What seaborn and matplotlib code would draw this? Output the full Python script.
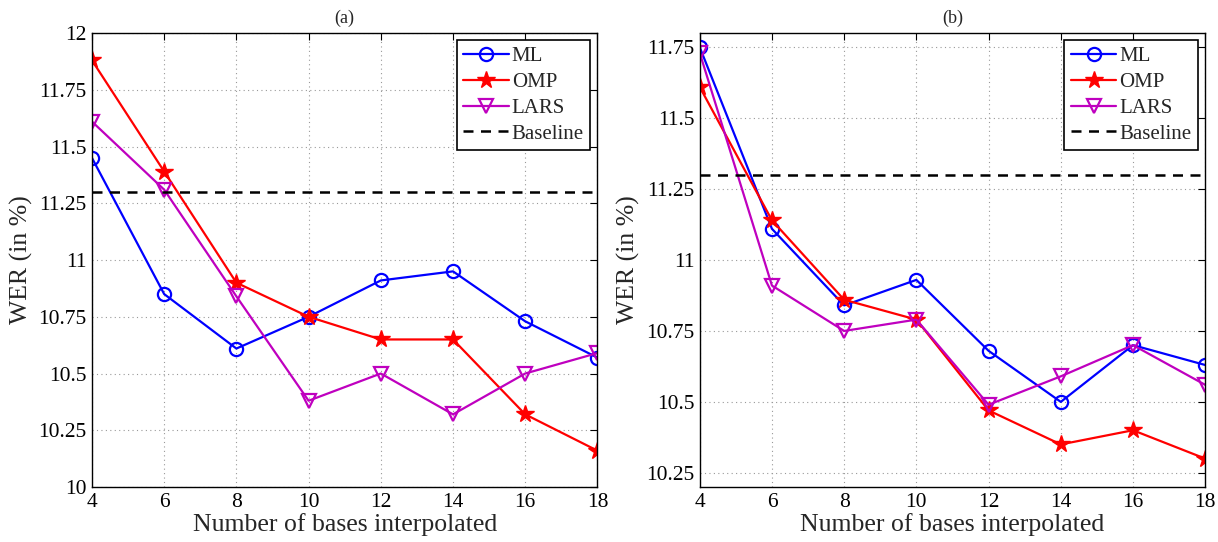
import matplotlib
matplotlib.use("Agg")
import matplotlib.pyplot as plt
import seaborn as sns
import pandas as pd

n_bases = [4, 6, 8, 10, 12, 14, 16, 18]

ml_a = [11.45, 10.85, 10.61, 10.75, 10.91, 10.95, 10.73, 10.57]
omp_a = [11.88, 11.39, 10.90, 10.75, 10.65, 10.65, 10.32, 10.16]
lars_a = [11.61, 11.31, 10.84, 10.38, 10.50, 10.32, 10.50, 10.59]

ml_b = [11.75, 11.11, 10.84, 10.93, 10.68, 10.50, 10.70, 10.63]
omp_b = [11.61, 11.14, 10.86, 10.79, 10.47, 10.35, 10.40, 10.30]
lars_b = [11.73, 10.91, 10.75, 10.79, 10.49, 10.59, 10.70, 10.56]

baseline = 11.3

yticks_a = [10, 10.25, 10.5, 10.75, 11, 11.25, 11.5, 11.75, 12]
yticks_b = [10.25, 10.5, 10.75, 11, 11.25, 11.5, 11.75]
ytick_labels_a = ["10", "10.25", "10.5", "10.75", "11", "11.25", "11.5", "11.75", "12"]
ytick_labels_b = ["10.25", "10.5", "10.75", "11", "11.25", "11.5", "11.75"]

sns.set_theme(style="white")
plt.rcParams["font.family"] = ["Liberation Serif", "DejaVu Serif"]
plt.rcParams["mathtext.fontset"] = "stix"

fig = plt.figure(figsize=(12.18, 5.42), dpi=100)
ax_a = fig.add_axes([0.0755, 0.1015, 0.415, 0.8375])
ax_b = fig.add_axes([0.5745, 0.1015, 0.415, 0.8375])

styles = [
    ("ML", "#0000ff", "o", dict(markerfacecolor="none", markersize=9.5, markeredgewidth=1.6)),
    ("OMP", "#ff0000", "*", dict(markersize=13, markeredgewidth=1.0)),
    ("LARS", "#bf00bf", "v", dict(markerfacecolor="none", markersize=10, markeredgewidth=1.6)),
]


def draw(ax, series, ylim, yticks, ylabels, title):
    for (name, color, marker, kw), vals in zip(styles, series):
        df = pd.DataFrame({"x": n_bases, "y": vals})
        sns.lineplot(data=df, x="x", y="y", ax=ax, color=color, marker=marker,
                     markeredgecolor=color, linewidth=1.6, label=name, **kw)
    ax.axhline(baseline, color="black", linestyle=(0, (4, 3)), linewidth=1.8,
               label="Baseline")
    ax.set_xlim(4, 18)
    ax.set_ylim(*ylim)
    ax.set_xticks(n_bases)
    ax.set_xticklabels([str(v) for v in n_bases])
    ax.set_yticks(yticks)
    ax.set_yticklabels(ylabels)
    ax.grid(True, color="#999999", linestyle=(0, (1, 3)), linewidth=0.8)
    ax.tick_params(direction="in", length=5, width=0.8, top=True, right=True,
                   labelsize=15.5, colors="black", pad=4)
    for s in ax.spines.values():
        s.set_color("black")
        s.set_linewidth(1.0)
    ax.set_xlabel("Number of bases interpolated", fontsize=18.5, labelpad=1)
    ax.set_ylabel("WER (in %)", fontsize=18.5, labelpad=4)
    ax.set_title(title, fontsize=13, pad=7)
    leg = ax.legend(loc="upper right", fontsize=15, frameon=True, fancybox=False,
                    edgecolor="black", framealpha=1, handlelength=2.2,
                    handletextpad=0.15, borderpad=0.3, labelspacing=0.3,
                    borderaxespad=0.35)
    leg.get_frame().set_linewidth(1.2)


draw(ax_a, [ml_a, omp_a, lars_a], (10, 12), yticks_a, ytick_labels_a, "(a)")
draw(ax_b, [ml_b, omp_b, lars_b], (10.2, 11.8), yticks_b, ytick_labels_b, "(b)")

fig.savefig("out.png", dpi=100)
